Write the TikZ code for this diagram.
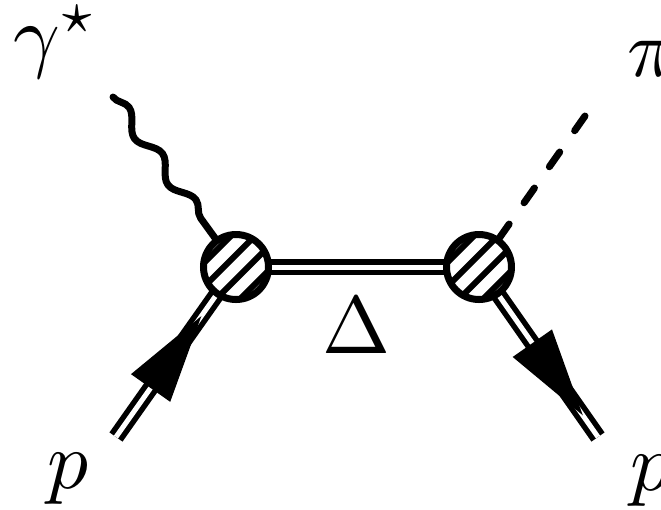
\documentclass[tikz,border=0pt]{standalone}
\usetikzlibrary{decorations.pathmorphing,decorations.markings,calc,backgrounds}
\newlength\upx
\setlength\upx{0.1225pt}
\tikzset{
  blob/.style={circle, draw, fill=white, line width=7\upx, minimum size=65\upx, inner sep=0pt,
    path picture={\foreach \d in {-25.5,-8.5,8.5,25.5}{
      \draw[line width=6\upx] ($(path picture bounding box.center)+({0.7071*(\d-45)},{0.7071*(\d+45)})$) -- ($(path picture bounding box.center)+({0.7071*(\d+45)},{0.7071*(\d-45)})$);}}},
  photon/.style={line width=7\upx, line cap=round, line join=round, decorate,
    decoration={snake, amplitude=7\upx, segment length=57\upx}},
  scalar/.style={line width=7\upx, dash pattern=on 18\upx off 26\upx, line cap=round},
  fermion/.style={line width=5.5\upx, double=white, double distance=5\upx},
  fermarrow/.style={postaction={decorate, decoration={markings,
    mark=at position #1 with {\fill[draw=none] (44,0) -- (-44,24) -- (-44,-24) -- cycle;}}}},
  lbl/.style={inner sep=0pt}
}
\begin{document}
\begin{tikzpicture}[x=0.1225pt, y=-0.1225pt]
\useasboundingbox (0,0) rectangle (661,509);
\node[blob] (b1) at (236,267) {};
\node[blob] (b2) at (479,267) {};
\coordinate (g) at (113,97);
\coordinate (pi) at (585,116);
\coordinate (p1) at (116,437);
\coordinate (p2) at (598,437);
\begin{scope}[on background layer]
  \draw[photon] (g) -- (b1);
  \draw[scalar] (pi) -- (b2.center);
  \draw[fermion, fermarrow=104\upx] (p1) -- (b1.center);
  \draw[fermion, fermarrow=137\upx] (b2.center) -- (p2);
  \draw[fermion] (b1.center) -- (b2.center);
\end{scope}
\node[lbl, anchor=base west] (lg) at (12,62) {$\gamma^\star$};
\node[lbl, anchor=base west] (lpi) at (625.5,76) {$\pi$};
\node[lbl, anchor=base west] (lp1) at (46,488) {$p$};
\node[lbl, anchor=base west] (lp2) at (629,490) {$p$};
\node[lbl, anchor=base] (ld) at (356.5,353) {$\Delta$};
\end{tikzpicture}
\end{document}
